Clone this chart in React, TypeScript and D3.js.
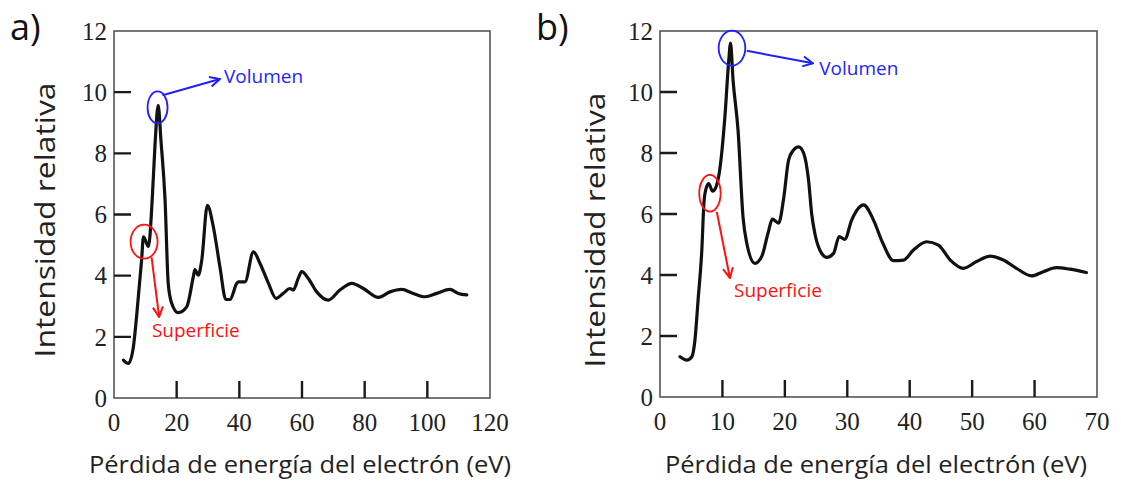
import React from "react";
import * as d3 from "d3";

// ---------- data ----------
const energyA = [3.0, 4.6, 6.2, 7.2, 8.8, 9.4, 11.0, 12.2, 13.1, 14.1, 15.0, 16.3, 17.3, 18.4, 20.5, 23.2, 25.3, 25.8, 26.9, 28.0, 29.8, 31.7, 33.8, 35.7, 37.0, 39.2, 39.7, 41.8, 44.5, 46.6, 49.3, 51.7, 54.0, 56.2, 57.2, 58.8, 59.9, 62.0, 64.7, 68.4, 72.1, 75.9, 79.6, 84.4, 88.1, 91.8, 95.5, 99.3, 103.0, 107.2, 109.9, 112.6];
const intensityA = [1.24, 1.13, 1.68, 2.66, 4.5, 5.27, 4.95, 6.5, 8.3, 9.57, 8.4, 6.47, 3.75, 3.1, 2.79, 2.98, 3.96, 4.2, 4.02, 4.5, 6.3, 5.6, 4.29, 3.22, 3.22, 3.75, 3.8, 3.8, 4.78, 4.4, 3.75, 3.26, 3.42, 3.58, 3.53, 3.91, 4.13, 3.91, 3.47, 3.2, 3.53, 3.75, 3.58, 3.29, 3.47, 3.55, 3.42, 3.31, 3.42, 3.55, 3.42, 3.37];

const energyB = [3.2, 4.3, 5.1, 5.6, 6.1, 6.7, 7.05, 7.4, 7.8, 8.4, 9.0, 9.6, 10.4, 11.0, 11.3, 11.7, 12.5, 13.3, 13.9, 15.2, 16.3, 17.3, 18.0, 19.0, 19.8, 20.6, 21.4, 22.2, 23.0, 23.8, 24.3, 24.8, 25.6, 26.7, 27.8, 28.7, 29.6, 30.7, 32.6, 34.2, 35.7, 37.4, 39.0, 40.6, 42.7, 44.6, 46.5, 48.6, 50.7, 52.9, 55.0, 57.1, 59.5, 61.4, 63.5, 65.7, 68.3];
const intensityB = [1.32, 1.21, 1.32, 1.87, 3.18, 4.82, 6.4, 6.85, 7.0, 6.75, 6.9, 7.5, 9.2, 11.0, 11.6, 10.4, 8.75, 5.9, 5.04, 4.38, 4.61, 5.37, 5.83, 5.7, 6.5, 7.77, 8.1, 8.2, 8.0, 7.1, 6.0, 5.37, 4.82, 4.58, 4.71, 5.26, 5.17, 5.8, 6.3, 5.8, 5.04, 4.47, 4.49, 4.82, 5.09, 4.98, 4.49, 4.22, 4.44, 4.62, 4.49, 4.22, 3.97, 4.11, 4.24, 4.19, 4.08];

const yTicks = [0, 2, 4, 6, 8, 10, 12];
const xTicksA = [0, 20, 40, 60, 80, 100, 120];
const xTicksB = [0, 10, 20, 30, 40, 50, 60, 70];

const panelLabels = ["a)", "b)"];
const yTitle = "Intensidad relativa";
const xTitle = "Pérdida de energía del electrón (eV)";
const volLabel = "Volumen";
const surfLabel = "Superficie";

// annotation anchors in data units: [ellipseX, ellipseY, arrowStartX, arrowStartY, arrowEndX, arrowEndY, textX, textY]
const volAnnA = [13.9, 9.5, 15.5, 9.9, 33.8, 10.43, 35.1, 10.3];
const surfAnnA = [9.6, 5.11, 12.0, 4.6, 14.4, 2.65, 12.1, 2.0];
const volAnnB = [11.53, 11.44, 13.9, 11.35, 24.5, 10.94, 25.5, 10.56];
const surfAnnB = [8.0, 6.68, 9.1, 6.07, 11.2, 3.9, 11.85, 3.28];

const SERIF = "'Liberation Serif', 'DejaVu Serif', serif";
const SANS = "'Open Sans', 'Noto Sans', sans-serif";
const BLUE = "#1f1fff";
const RED = "#ff1010";
const TICK_COLOR = "#1a1a1a";

type PanelProps = {
  xData: number[];
  yData: number[];
  xDomain: [number, number];
  xRange: [number, number];
  yRange: [number, number];
  xTicks: number[];
  volAnn: number[];
  surfAnn: number[];
  volR: [number, number];
  surfR: [number, number];
  label: string;
  labelX: number;
  yTitleX: number;
  yTitleY: number;
  xTitleX: number;
  id: string;
};

function Panel(p: PanelProps) {
  const xs = d3.scaleLinear().domain(p.xDomain).range(p.xRange);
  const ys = d3.scaleLinear().domain([0, 12]).range(p.yRange);
  const pts: [number, number][] = p.xData.map((v, i) => [v, p.yData[i]]);
  const line = d3
    .line<[number, number]>()
    .x((d) => xs(d[0]))
    .y((d) => ys(d[1]))
    .curve(d3.curveMonotoneX);
  const left = p.xRange[0];
  const right = p.xRange[1];
  const bottom = p.yRange[0];
  const top = p.yRange[1];
  const tickLen = 17;
  const va = p.volAnn;
  const sa = p.surfAnn;
  const innerY = yTicks.slice(1, yTicks.length - 1);
  const innerX = p.xTicks.slice(1, p.xTicks.length - 1);
  let tickPath = "";
  innerY.forEach((t) => {
    tickPath += `M${left},${ys(t)}H${left + tickLen}`;
  });
  innerX.forEach((t) => {
    tickPath += `M${xs(t)},${bottom}V${bottom - tickLen}`;
  });
  return (
    <g>
      <defs>
        <marker id={"arrB" + p.id} viewBox="0 0 12 12" refX="11" refY="6" markerWidth="12" markerHeight="12" markerUnits="userSpaceOnUse" orient="auto">
          <path d="M1,1 L11,6 L1,11" fill="none" stroke={BLUE} strokeWidth={2} />
        </marker>
        <marker id={"arrR" + p.id} viewBox="0 0 12 12" refX="11" refY="6" markerWidth="12" markerHeight="12" markerUnits="userSpaceOnUse" orient="auto">
          <path d="M1,1 L11,6 L1,11" fill="none" stroke={RED} strokeWidth={2} />
        </marker>
      </defs>
      {/* frame */}
      <rect x={left} y={top} width={right - left} height={bottom - top} fill="none" stroke="#555" strokeWidth={1.6} />
      {/* tick marks (inward) */}
      <path d={tickPath} fill="none" stroke={TICK_COLOR} strokeWidth={2.4} />
      {/* tick labels */}
      {yTicks.map((t) => (
        <text key={"yl" + t} x={left - 7} y={ys(t)} dy="0.35em" textAnchor="end" fontFamily={SERIF} fontSize={25} fill="#222">
          {t}
        </text>
      ))}
      {p.xTicks.map((t) => (
        <text key={"xl" + t} x={xs(t)} y={bottom + 33} textAnchor="middle" fontFamily={SERIF} fontSize={25} fill="#222">
          {t}
        </text>
      ))}
      {/* curve */}
      <path d={line(pts) || ""} fill="none" stroke="#111" strokeWidth={3.2} strokeLinejoin="round" strokeLinecap="round" />
      {/* annotations */}
      <ellipse cx={xs(va[0])} cy={ys(va[1])} rx={p.volR[0]} ry={p.volR[1]} fill="none" stroke={BLUE} strokeWidth={1.8} />
      <line x1={xs(va[2])} y1={ys(va[3])} x2={xs(va[4])} y2={ys(va[5])} stroke={BLUE} strokeWidth={2} markerEnd={`url(#arrB${p.id})`} />
      <text x={xs(va[6])} y={ys(va[7])} fontFamily={SANS} fontSize={19} fill={BLUE}>
        {volLabel}
      </text>
      <ellipse cx={xs(sa[0])} cy={ys(sa[1])} rx={p.surfR[0]} ry={p.surfR[1]} fill="none" stroke={RED} strokeWidth={1.8} />
      <line x1={xs(sa[2])} y1={ys(sa[3])} x2={xs(sa[4])} y2={ys(sa[5])} stroke={RED} strokeWidth={2} markerEnd={`url(#arrR${p.id})`} />
      <text x={xs(sa[6])} y={ys(sa[7])} fontFamily={SANS} fontSize={19} fill={RED}>
        {surfLabel}
      </text>
      {/* titles */}
      <text x={p.labelX} y={40} fontFamily={SANS} fontSize={36} fill="#111">
        {p.label}
      </text>
      <text
        transform={`translate(${p.yTitleX},${p.yTitleY}) rotate(-90)`}
        textAnchor="middle"
        fontFamily={SANS}
        fontSize={28}
        textLength={275}
        lengthAdjust="spacingAndGlyphs"
        fill="#222"
      >
        {yTitle}
      </text>
      <text x={p.xTitleX} y={473} textAnchor="middle" fontFamily={SANS} fontSize={23} textLength={422} lengthAdjust="spacingAndGlyphs" fill="#222">
        {xTitle}
      </text>
    </g>
  );
}

export default function App() {
  return (
    <svg width={1121} height={493} style={{ position: "absolute", left: 0, top: 0, background: "#fff" }}>
      <rect width={1121} height={493} fill="#fff" />
      <Panel
        id="a"
        xData={energyA}
        yData={intensityA}
        xDomain={[0, 120]}
        xRange={[114, 490]}
        yRange={[398, 31]}
        xTicks={xTicksA}
        volAnn={volAnnA}
        surfAnn={surfAnnA}
        volR={[10, 16]}
        surfR={[13.5, 17]}
        label={panelLabels[0]}
        labelX={10}
        yTitleX={55}
        yTitleY={220}
        xTitleX={300}
      />
      <Panel
        id="b"
        xData={energyB}
        yData={intensityB}
        xDomain={[0, 70]}
        xRange={[660, 1097]}
        yRange={[397, 31]}
        xTicks={xTicksB}
        volAnn={volAnnB}
        surfAnn={surfAnnB}
        volR={[13.3, 17.5]}
        surfR={[10.7, 18.3]}
        label={panelLabels[1]}
        labelX={536}
        yTitleX={605}
        yTitleY={230}
        xTitleX={876}
      />
    </svg>
  );
}
